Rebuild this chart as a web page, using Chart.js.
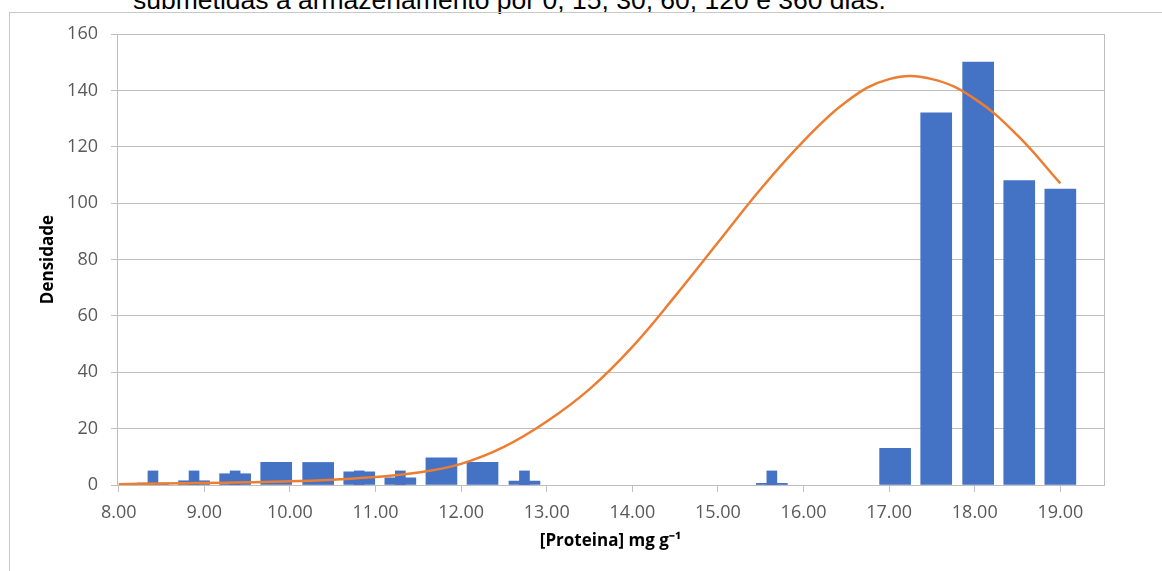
<!DOCTYPE html>
<html>
<head>
<meta charset="utf-8">
<script src="https://cdn.jsdelivr.net/npm/chart.js@4"></script>
<style>
  html, body { margin: 0; padding: 0; background: #fff; overflow: hidden; }
  #page { position: relative; width: 1162px; height: 571px; }
  #caption {
    position: absolute; left: 133px; top: -13px; white-space: nowrap;
    font-family: "Liberation Sans", Arial, sans-serif; font-size: 26.5px; line-height: 1; color: #000;
  }
  #frame {
    position: absolute; left: 9px; top: 12px; width: 1200px; height: 600px;
    border-left: 1px solid #c8c8c8; border-top: 1px solid #c8c8c8;
  }
  #wrap { position: absolute; left: 0; top: 0; width: 1162px; height: 571px; }
</style>
</head>
<body>
<div id="page">
  <div id="caption">submetidas a armazenamento por 0, 15, 30, 60, 120 e 360 dias.</div>
  <div id="frame"></div>
  <div id="wrap"><canvas id="histChart"></canvas></div>
</div>
<script>
// histogram bins (bin centres, mg g-1)
const binCenters = [8.40, 8.88, 9.36, 9.84, 10.33, 10.81, 11.29, 11.77, 12.25, 12.74, 13.22, 13.70,
                    14.18, 14.66, 15.14, 15.63, 16.11, 16.59, 17.07, 17.55, 18.04, 18.52, 19.00];
// wide bars (density), null = empty bin
const wideValues = [0.7, 1.5, 4, 8, 8, 4.7, 2.5, 9.6, 8, 1.4, null, null,
                    null, null, null, 0.6, null, null, 13, 132, 150, 108, 105];
// narrow bars
const narrowValues = [5, 5, 5, null, null, 5, 5, null, null, 5, null, null,
                      null, null, null, 5, null, null, null, null, null, null, null];
// fitted curve
const curveX = [8.0, 8.5, 9.0, 9.5, 10.0, 10.5, 11.0, 11.5, 12.0, 12.5, 13.0, 13.5, 14.0, 14.5,
                15.0, 15.5, 16.0, 16.5, 17.0, 17.5, 18.0, 18.5, 19.0];
const curveY = [0.3, 0.5, 0.7, 1.0, 1.3, 1.9, 2.8, 4.4, 7.5, 13.5, 22.5, 34, 49, 67,
                86, 105, 122, 136, 144, 144, 137, 124, 107];
const xTicks = [8, 9, 10, 11, 12, 13, 14, 15, 16, 17, 18, 19];
const yTicks = [0, 20, 40, 60, 80, 100, 120, 140, 160];

const axisGray = '#bfbfbf';
const textGray = '#595959';

// right edge of the plot area
const plotFrame = {
  id: 'plotFrame',
  afterDraw(chart) {
    const { ctx, chartArea } = chart;
    ctx.save();
    ctx.strokeStyle = axisGray;
    ctx.lineWidth = 1;
    ctx.beginPath();
    ctx.moveTo(Math.round(chartArea.right) + 0.5, chartArea.top);
    ctx.lineTo(Math.round(chartArea.right) + 0.5, chartArea.bottom);
    ctx.stroke();
    ctx.restore();
  }
};

const histCtx = document.getElementById('histChart').getContext('2d');
const histChart = new Chart(histCtx, {
  type: 'bar',
  data: {
    datasets: [{
      type: 'line',
      label: 'Curva',
      data: curveX.map((x, i) => ({ x: x, y: curveY[i] })),
      borderColor: '#ED7D31',
      borderWidth: 2.5,
      pointRadius: 0,
      tension: 0.4,
      fill: false,
      order: 0
    }, {
      label: 'Densidade',
      data: binCenters.map((x, i) => ({ x: x, y: wideValues[i] })),
      backgroundColor: '#4472C4',
      barThickness: 31,
      grouped: false,
      order: 1
    }, {
      label: 'Densidade (estreita)',
      data: binCenters.map((x, i) => ({ x: x, y: narrowValues[i] })),
      backgroundColor: '#4472C4',
      barThickness: 10,
      grouped: false,
      order: 2
    }]
  },
  options: {
    responsive: true,
    maintainAspectRatio: false,
    animation: false,
    layout: { padding: { left: 0, right: 58, top: 34, bottom: 0 } },
    scales: {
      x: {
        type: 'linear',
        offset: false,
        min: 7.98,
        max: 19.51,
        afterBuildTicks: (scale) => { scale.ticks = xTicks.map(v => ({ value: v })); },
        afterFit: (scale) => { scale.height = 86; },
        grid: { offset: false, drawOnChartArea: false, drawTicks: true, tickLength: 7, color: axisGray },
        border: { color: axisGray },
        ticks: {
          color: textGray,
          font: { family: 'Open Sans', size: 18 },
          padding: 10,
          maxRotation: 0,
          autoSkip: false,
          callback: (v) => Number(v).toFixed(2)
        },
        title: {
          display: true,
          text: '[Proteina] mg g⁻¹',
          color: '#000',
          font: { family: 'Open Sans', size: 17, weight: 'bold' },
          padding: { top: 0, bottom: 20 }
        }
      },
      y: {
        min: 0,
        max: 160,
        afterBuildTicks: (scale) => { scale.ticks = yTicks.map(v => ({ value: v })); },
        afterFit: (scale) => { scale.width = 117; },
        grid: { color: axisGray, tickLength: 6 },
        border: { color: axisGray },
        ticks: {
          color: textGray,
          font: { family: 'Open Sans', size: 18 },
          padding: 13
        },
        title: {
          display: true,
          text: 'Densidade',
          color: '#000',
          font: { family: 'Open Sans', size: 17, weight: 'bold' },
          padding: { top: 38, bottom: 0 }
        }
      }
    },
    plugins: {
      legend: { display: false },
      tooltip: { enabled: false }
    }
  },
  plugins: [plotFrame]
});
</script>
</body>
</html>
